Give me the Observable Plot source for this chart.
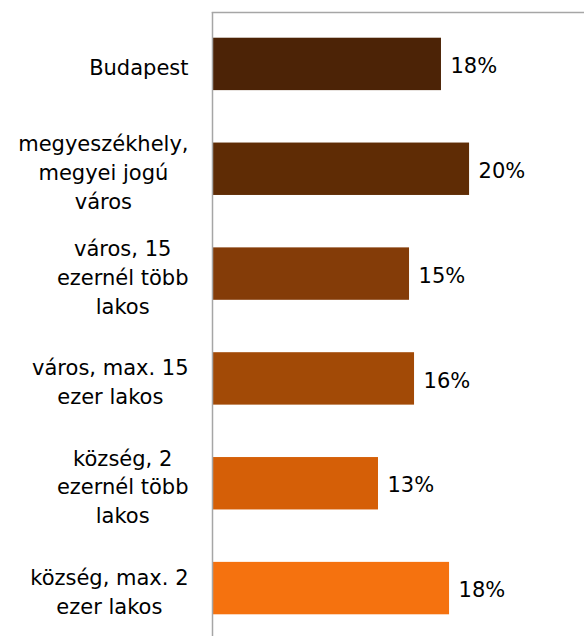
<!DOCTYPE html>
<html><head><meta charset="utf-8">
<script src="https://cdn.jsdelivr.net/npm/d3@7"></script>
<script src="https://cdn.jsdelivr.net/npm/@observablehq/plot@0.6"></script>
<style>html,body{margin:0;padding:0;background:#fff;overflow:hidden}</style>
</head><body><div id="chart"></div>
<script>
const categories = [
  "Budapest",
  "megyeszékhely,\nmegyei jogú\nváros",
  "város, 15\nezernél több\nlakos",
  "város, max. 15\nezer lakos",
  "község, 2\nezernél több\nlakos",
  "község, max. 2\nezer lakos"
];
const values = [0.1785, 0.2004, 0.1536, 0.1575, 0.1294, 0.1848];
const valueLabels = ["18%", "20%", "15%", "16%", "13%", "18%"];
const colors = ["#4C2306", "#5F2C05", "#843C08", "#A24A06", "#D55F07", "#F5720F"];
const xMax = 0.29;

const data = categories.map((c, i) => ({category: c, value: values[i], label: valueLabels[i], color: colors[i]}));

const FONT_SIZE = 21;
const ctx = document.createElement("canvas").getContext("2d");
ctx.font = FONT_SIZE + "px 'DejaVu Sans'";
const blockWidth = c => d3.max(c.split("\n"), s => ctx.measureText(s).width);

const catMarks = data.map(d => Plot.text([d], {
  x: () => 0, y: "category", text: "category",
  textAnchor: "middle", lineHeight: 1.37,
  dx: -(24 + blockWidth(d.category) / 2), dy: 1.5,
  fontSize: FONT_SIZE, fill: "#000"
}));

const chart = Plot.plot({
  width: 584, height: 636,
  marginLeft: 212, marginRight: 0, marginTop: 12, marginBottom: 0,
  style: {fontFamily: "'DejaVu Sans', Verdana, sans-serif", background: "#fff"},
  x: {domain: [0, xMax], axis: null},
  y: {domain: categories, range: [11.5, 640.5], round: false, paddingInner: 0.5, paddingOuter: 0.25, axis: null},
  color: {type: "identity"},
  marks: [
    Plot.frame({anchor: "top", stroke: "#A6A6A6", strokeWidth: 1.5}),
    Plot.barX(data, {x: "value", y: "category", fill: "color"}),
    Plot.ruleX([0], {stroke: "#A6A6A6", strokeWidth: 1.5}),
    Plot.text(data, {x: "value", y: "category", text: "label", textAnchor: "start", dx: 9, dy: 2, fontSize: FONT_SIZE, fill: "#000"}),
    ...catMarks
  ]
});
document.getElementById("chart").appendChild(chart);
</script>
</body></html>
